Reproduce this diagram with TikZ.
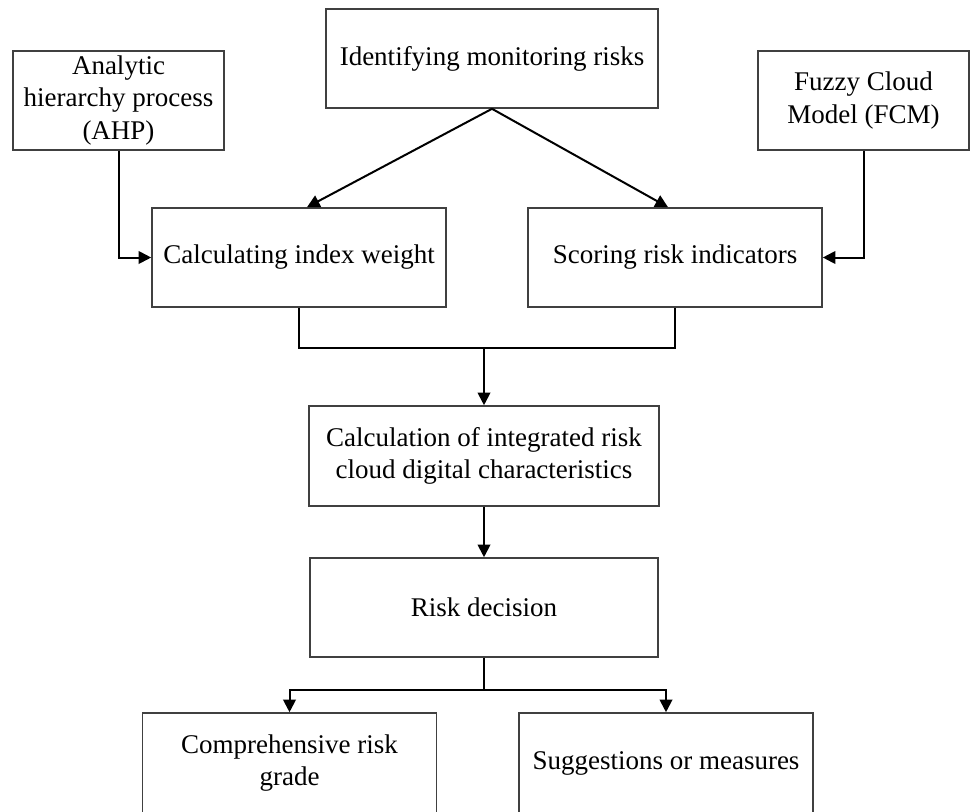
\documentclass[tikz,border=0pt]{standalone}
\usepackage{fontspec}
\setmainfont{Liberation Serif}
\usetikzlibrary{arrows.meta}
\begin{document}
\begin{tikzpicture}[x=0.75pt,y=-0.75pt,
  box/.style={draw=black!75, line width=1.2pt, fill=white, inner sep=0pt, align=center,
    font=\fontsize{20.25}{24.5}\selectfont},
  conn/.style={draw=black, line width=1.5pt},
  arr/.style={conn, -{Triangle[length=9.5pt,width=9.5pt]}}]
\useasboundingbox[fill=white] (0,0) rectangle (970,811);
\node[box, minimum width=158.25pt, minimum height=74.25pt] (ahp) at (118.5,100.5) {Analytic\\hierarchy process\\(AHP)};
\node[box, minimum width=249pt, minimum height=74.25pt] (ident) at (492,58.5) {Identifying monitoring risks};
\node[box, minimum width=158.25pt, minimum height=74.25pt] (fcm) at (863.5,100.5) {Fuzzy Cloud\\Model (FCM)};
\node[box, minimum width=220.5pt, minimum height=74.25pt] (calc) at (299,257.5) {Calculating index weight};
\node[box, minimum width=220.5pt, minimum height=74.25pt] (score) at (675,257.5) {Scoring risk indicators};
\node[box, minimum width=262.5pt, minimum height=75pt] (integ) at (484,456) {Calculation of integrated risk\\cloud digital characteristics};
\node[box, minimum width=261pt, minimum height=74.25pt] (risk) at (484,607.5) {Risk decision};
\node[box, minimum width=220.5pt, minimum height=75pt] (grade) at (289.5,763) {Comprehensive risk\\grade};
\node[box, minimum width=220.5pt, minimum height=75pt] (sugg) at (666,763) {Suggestions or measures};
\coordinate (j) at (484,348);
\coordinate (k) at (484,690);
\draw[arr] (ident.south) -- ([xshift=6pt]calc.north);
\draw[arr] (ident.south) -- ([xshift=-5.25pt]score.north);
\draw[arr] (ahp.south) |- (calc.west);
\draw[arr] (fcm.south) |- (score.east);
\draw[conn] (calc.south) |- (j) -| (score.south);
\draw[arr] (j) -- (integ.north);
\draw[arr] (integ.south) -- (risk.north);
\draw[conn] (risk.south) -- (k);
\draw[arr] (k) -| (grade.north);
\draw[arr] (k) -| (sugg.north);
\end{tikzpicture}
\end{document}
